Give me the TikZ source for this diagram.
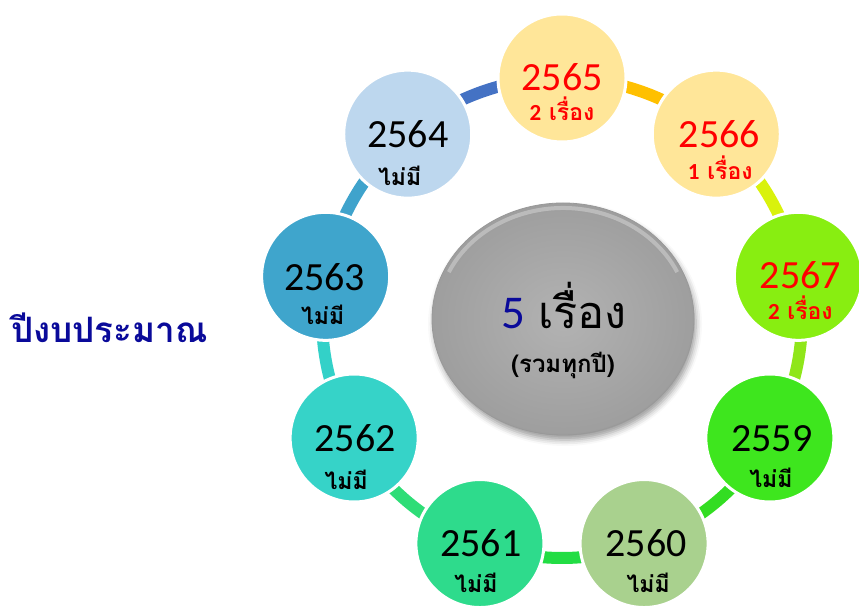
\documentclass[tikz,border=0pt]{standalone}
\usepackage{fontspec}
\setmainfont{Carlito}
\newfontfamily\thai[Script=Thai]{Loma}
\newfontfamily\numf{Carlito}
\usetikzlibrary{shadows.blur,shapes.geometric}
\definecolor{f65}{HTML}{FFE699}
\definecolor{f66}{HTML}{FFE699}
\definecolor{f67}{HTML}{88EE11}
\definecolor{f59}{HTML}{3EE61E}
\definecolor{f60}{HTML}{A9D18E}
\definecolor{f61}{HTML}{2EDB8C}
\definecolor{f62}{HTML}{36D3C8}
\definecolor{f63}{HTML}{3FA5CC}
\definecolor{f64}{HTML}{BDD7EE}
\definecolor{kA}{HTML}{4472C4}
\definecolor{kB}{HTML}{FFC000}
\definecolor{kC}{HTML}{D9F20C}
\definecolor{kD}{HTML}{8FE61A}
\definecolor{kE}{HTML}{33DD22}
\definecolor{kF}{HTML}{22DD44}
\definecolor{kG}{HTML}{2EDD77}
\definecolor{kH}{HTML}{33D1C8}
\definecolor{kI}{HTML}{3FA3CC}
\definecolor{darkblue}{HTML}{0A0A9A}
\definecolor{numred}{HTML}{FF0000}
\tikzset{
  yearcircle/.style={circle, minimum size=128, inner sep=0pt, draw=white, line width=3pt},
  ringseg/.style={line width=12pt, bend left=20, looseness=0.88},
  yeartext/.style={anchor=base, inner sep=0pt, font=\numf\fontsize{40}{40}\selectfont},
  subtext/.style={anchor=base, inner sep=0pt, font=\thai\bfseries\fontsize{23}{23}\selectfont},
}
\begin{document}
\begin{tikzpicture}[x=1pt,y=1pt]
\useasboundingbox (0,0) rectangle (859,608);
\clip (0,0) rectangle (859,608);
\coordinate (O) at (562,290);
\foreach \n/\a in {65/90,66/50,67/10,59/-30,60/-70,61/-110,62/-150,63/170,64/130}
  \path (O) ++(\a:240) coordinate (p\n);

% connectors (drawn first, circles cover their ends)
\draw[ringseg, draw=kA] (p64) to (p65);
\draw[ringseg, draw=kB] (p65) to (p66);
\draw[ringseg, draw=kC] (p66) to (p67);
\draw[ringseg, draw=kD] (p67) to (p59);
\draw[ringseg, draw=kE] (p59) to (p60);
\draw[ringseg, draw=kF] (p60) to (p61);
\draw[ringseg, draw=kG] (p61) to (p62);
\draw[ringseg, draw=kH] (p62) to (p63);
\draw[ringseg, draw=kI] (p63) to (p64);

% year circles
\foreach \n in {65,66,67,59,60,61,62,63,64}
  \node[yearcircle, fill=f\n] (n\n) at (p\n) {};

% year labels
\node[yeartext, text=numred] (y65) at ([yshift=-13pt]n65.center) {2565};
\node[subtext, text=numred] (s65) at ([yshift=-43pt]n65.center) {{\numf\bfseries 2} เรื่อง};
\node[yeartext, text=numred] (y66) at ([xshift=3pt,yshift=-13pt]n66.center) {2566};
\node[subtext, text=numred] (s66) at ([xshift=4pt,yshift=-45pt]n66.center) {{\numf\bfseries 1} เรื่อง};
\node[yeartext, text=numred] (y67) at ([xshift=2pt,yshift=-12pt]n67.center) {2567};
\node[subtext, text=numred] (s67) at ([xshift=2pt,yshift=-43pt]n67.center) {{\numf\bfseries 2} เรื่อง};
\node[yeartext] (y59) at ([xshift=2pt,yshift=-13pt]n59.center) {2559};
\node[subtext] (s59) at ([xshift=1pt,yshift=-49pt]n59.center) {ไม่มี};
\node[yeartext] (y60) at ([xshift=2pt,yshift=-13pt]n60.center) {2560};
\node[subtext] (s60) at ([xshift=4pt,yshift=-49pt]n60.center) {ไม่มี};
\node[yeartext] (y61) at ([xshift=1pt,yshift=-13pt]n61.center) {2561};
\node[subtext] (s61) at ([xshift=-4pt,yshift=-49pt]n61.center) {ไม่มี};
\node[yeartext] (y62) at ([xshift=1pt,yshift=-13pt]n62.center) {2562};
\node[subtext] (s62) at ([xshift=-8pt,yshift=-51pt]n62.center) {ไม่มี};
\node[yeartext] (y63) at ([xshift=-1pt,yshift=-14pt]n63.center) {2563};
\node[subtext] (s63) at ([xshift=-3pt,yshift=-48pt]n63.center) {ไม่มี};
\node[yeartext] (y64) at ([yshift=-13pt]n64.center) {2564};
\node[subtext] (s64) at ([xshift=-8pt,yshift=-51pt]n64.center) {ไม่มี};

% centre sphere
\node[ellipse, minimum width=262, minimum height=232, inner sep=0pt,
      inner color=gray!60, outer color=gray!76, draw=gray!80, line width=0.8pt,
      blur shadow={shadow xshift=2pt, shadow yshift=-5pt, shadow blur radius=6pt, shadow opacity=40}]
      (ctr) at (563,289) {};
\draw[white, opacity=0.3, line width=4pt] (ctr.center) ++(155:126 and 111) arc[start angle=155, end angle=25, x radius=126, y radius=111];
\node[anchor=base, inner sep=0pt] (tot) at ([xshift=1pt,yshift=-10pt]ctr.center)
  {{\numf\fontsize{47}{47}\selectfont\color{darkblue}5}\hspace{13pt}{\thai\fontsize{45}{45}\selectfont เรื่อง}};
\node[anchor=base, inner sep=0pt, font=\thai\bfseries\fontsize{24}{24}\selectfont] (all) at ([yshift=-54pt]ctr.center) {(รวมทุกปี)};

% left title
\node[anchor=base west, inner sep=0pt, text=darkblue, font=\thai\bfseries\fontsize{35}{35}\selectfont] (title) at (11,265) {ปีงบประมาณ};
\end{tikzpicture}
\end{document}
